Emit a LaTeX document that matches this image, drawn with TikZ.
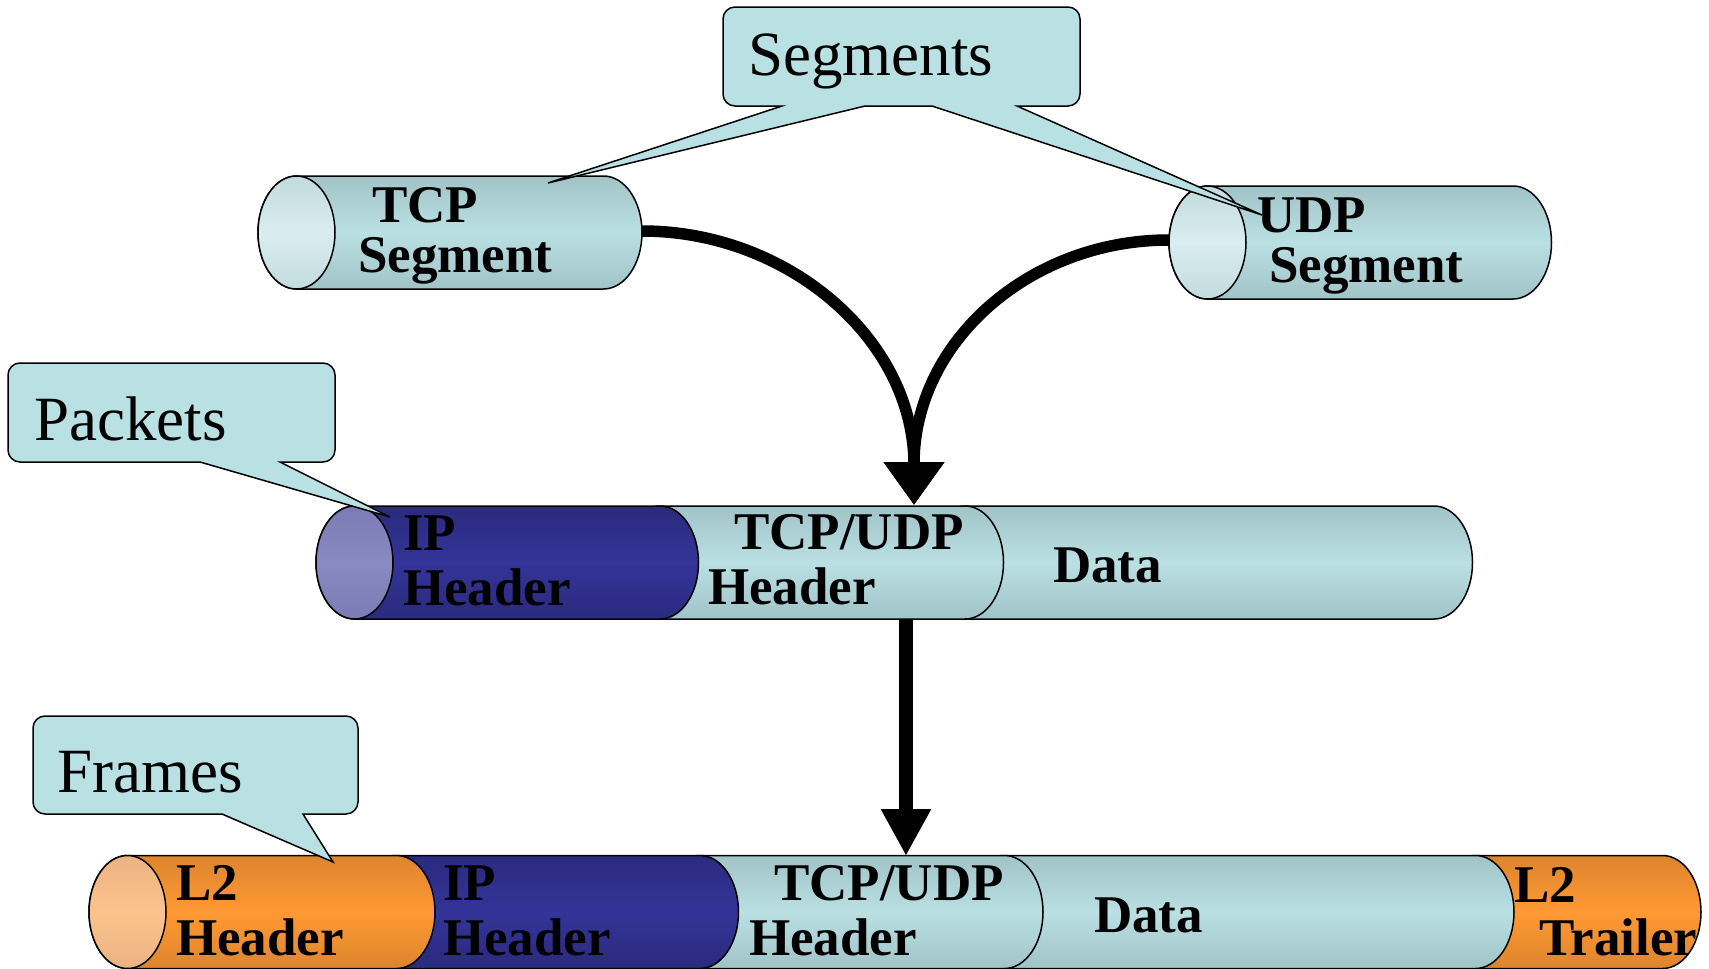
\documentclass[tikz,border=0pt]{standalone}
\usepackage{fontspec}
\setmainfont{Liberation Serif}
\usetikzlibrary{arrows.meta}

\definecolor{tealMid}{HTML}{BAE0E3}
\definecolor{tealEdge}{HTML}{A0C3C6}
\definecolor{tealEndMid}{HTML}{DAEDF0}
\definecolor{tealEndEdge}{HTML}{C2DBDE}
\definecolor{ipMid}{HTML}{343499}
\definecolor{ipEdge}{HTML}{2A2A7E}
\definecolor{ipEndMid}{HTML}{8A8AC2}
\definecolor{ipEndEdge}{HTML}{7B7BB5}
\definecolor{ltwoMid}{HTML}{FF9933}
\definecolor{ltwoEdge}{HTML}{DC852E}
\definecolor{ltwoEndMid}{HTML}{FCC48C}
\definecolor{ltwoEndEdge}{HTML}{EBB283}
\definecolor{calloutFill}{HTML}{B9E0E3}

\tikzset{
  outline/.style={draw=black, line width=1.5pt},
  tealpart/.style={outline, top color=tealEdge, bottom color=tealEdge, middle color=tealMid},
  ippart/.style={outline, top color=ipEdge, bottom color=ipEdge, middle color=ipMid},
  ltwopart/.style={outline, top color=ltwoEdge, bottom color=ltwoEdge, middle color=ltwoMid},
  tealend/.style={outline, top color=tealEndEdge, bottom color=tealEndEdge, middle color=tealEndMid},
  ipend/.style={outline, top color=ipEndEdge, bottom color=ipEndEdge, middle color=ipEndMid},
  ltwoend/.style={outline, top color=ltwoEndEdge, bottom color=ltwoEndEdge, middle color=ltwoEndMid},
  callout/.style={draw=black, line width=1.5pt, fill=calloutFill, line join=miter},
  lbl/.style={font=\bfseries\fontsize{53}{53}\selectfont, inner sep=0pt, anchor=base west},
  ctext/.style={font=\fontsize{63}{63}\selectfont, inner sep=0pt, anchor=base west},
  curvearrow/.style={line width=11.5pt, -{Triangle[length=43pt,width=58pt]}},
  downarrow/.style={line width=14pt, -{Triangle[length=47pt,width=47pt]}}
}

% one piece of a lying can: left centre x, right centre x, centre y, style
\newcommand{\canpart}[4]{%
  \path[#4] (#1,#3-56.5) -- (#2,#3-56.5)
    arc[start angle=-90, end angle=90, x radius=38.5, y radius=56.5]
    -- (#1,#3+56.5)
    arc[start angle=90, end angle=270, x radius=38.5, y radius=56.5] -- cycle;}
% the visible round end of a can
\newcommand{\canend}[3]{%
  \path[#3] (#1,#2) ellipse[x radius=38.5, y radius=56.5];}
% rounded speech box: x1, y1, x2, y2, tail points along the bottom edge (right to left)
\newcommand{\speechbox}[5]{%
  \draw[callout] (#1+12,#2) -- (#3-12,#2)
    arc[start angle=-90, end angle=0, radius=12] -- (#3,#4-12)
    arc[start angle=0, end angle=90, radius=12] #5 -- (#1+12,#4)
    arc[start angle=90, end angle=180, radius=12] -- (#1,#2+12)
    arc[start angle=180, end angle=270, radius=12] -- cycle;}

\begin{document}
\begin{tikzpicture}[x=1pt, y=-1pt]
\useasboundingbox (0,0) rectangle (1709,969);

% transport layer segments
\canpart{296.5}{603.5}{232.5}{tealpart}
\canend{296.5}{232.5}{tealend}
\canpart{1207.5}{1513}{242.5}{tealpart}
\canend{1207.5}{242.5}{tealend}

% network layer packet
\canpart{965}{1434}{562.5}{tealpart}
\canpart{660}{965}{562.5}{tealpart}
\canpart{354.5}{660}{562.5}{ippart}
\canend{354.5}{562.5}{ipend}

% data link frame
\canpart{1475.5}{1662.5}{912}{ltwopart}
\canpart{1004.5}{1475.5}{912}{tealpart}
\canpart{700}{1004.5}{912}{tealpart}
\canpart{396.5}{700}{912}{ippart}
\canpart{127.5}{396.5}{912}{ltwopart}
\canend{127.5}{912}{ltwoend}

% connector end points
\coordinate (tcpOut) at (642,231);
\coordinate (udpOut) at (1169,240);
\coordinate (mergeIn) at (914,462);
\coordinate (pktTop) at (914,505);
\coordinate (pktBottom) at (906,619);
\coordinate (frmTop) at (906,856);

\draw[curvearrow] (tcpOut) .. controls +(145,0) and +(-2,-124) .. (mergeIn) -- (pktTop);
\draw[curvearrow] (udpOut) .. controls +(-140,0) and +(1,-120) .. (mergeIn) -- (pktTop);
\draw[downarrow] (pktBottom) -- (frmTop);

% speech boxes
\speechbox{723}{7}{1080}{106}{-- (1017,106) -- (1262,215) -- (932,106) -- (865,106) -- (548,183) -- (782,106)}
\speechbox{8}{363}{335}{462}{-- (280,462) -- (390,517) -- (200,462)}
\speechbox{33}{716}{358}{814}{-- (303,814) -- (333,862) -- (222,814)}

\node[ctext] (segTxt) at (748,75) {Segments};
\node[ctext] (pktTxt) at (34,440) {Packets};
\node[ctext] (frmTxt) at (57,792) {Frames};

% labels on the cans
\node[lbl] (tcpA) at (372,222) {TCP};
\node[lbl] (tcpB) at (358,272) {Segment};
\node[lbl] (udpA) at (1257,232) {UDP};
\node[lbl] (udpB) at (1269,282) {Segment};

\node[lbl] (pIpA) at (403,550) {IP};
\node[lbl] (pIpB) at (403,605) {Header};
\node[lbl] (pTrA) at (734,549) {TCP/UDP};
\node[lbl] (pTrB) at (708,604) {Header};
\node[lbl] (pData) at (1053,582) {Data};

\node[lbl] (fLtA) at (176,900) {L2};
\node[lbl] (fLtB) at (176,955) {Header};
\node[lbl] (fIpA) at (443,900) {IP};
\node[lbl] (fIpB) at (443,955) {Header};
\node[lbl] (fTrA) at (774,900) {TCP/UDP};
\node[lbl] (fTrB) at (749,955) {Header};
\node[lbl] (fData) at (1094,932) {Data};
\node[lbl] (fTlA) at (1514,902) {L2};
\node[lbl] (fTlB) at (1539,955) {Trailer};
\end{tikzpicture}
\end{document}
